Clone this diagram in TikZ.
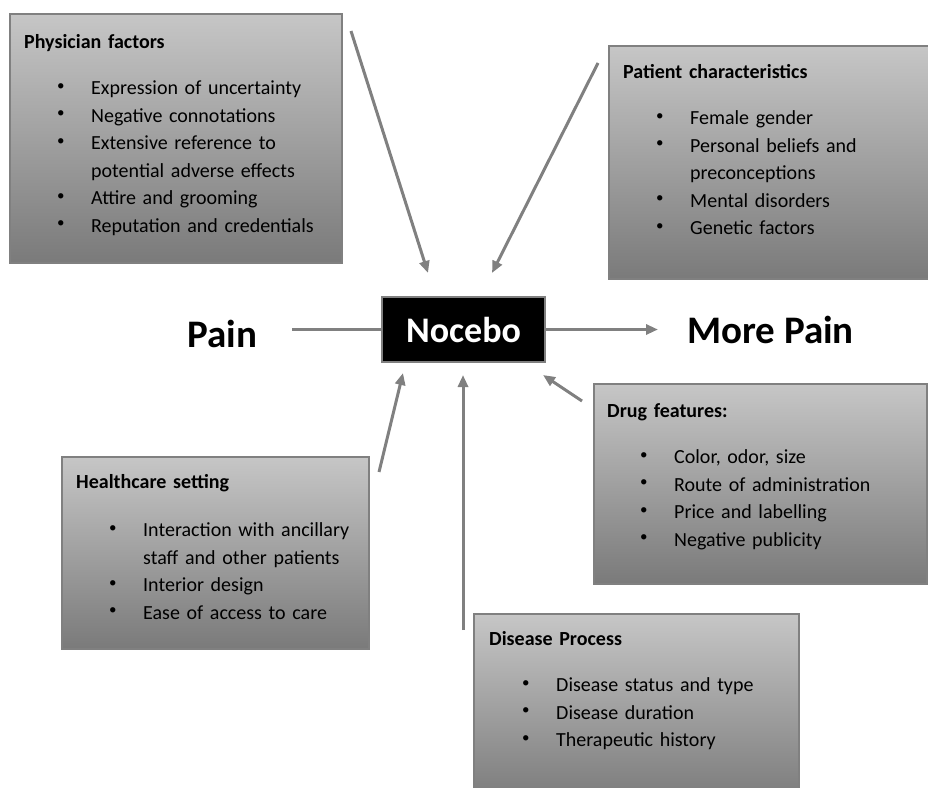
\documentclass[tikz,border=0pt]{standalone}
\usepackage{fontspec}
\setmainfont{Carlito}
\usepackage{tikz}
\usetikzlibrary{arrows.meta}
\definecolor{boxtop}{RGB}{198,198,198}
\definecolor{boxbot}{RGB}{122,122,122}
\definecolor{linegray}{RGB}{128,128,128}
\tikzstyle{factor} = [rectangle, anchor=north west, inner sep=0pt, draw=linegray, line width=2pt, top color=boxtop, bottom color=boxbot]
\tikzstyle{factortext} = [anchor=base west, inner sep=0pt, text width=320pt, align=left, font=\fontsize{20}{27.5}\selectfont]
\tikzstyle{bigword} = [anchor=base west, inner sep=0pt, font=\fontsize{39}{44}\selectfont\bfseries]
\tikzstyle{line} = [line width=3pt, draw=linegray]
\tikzstyle{arrow} = [line, -{Triangle[length=12pt,width=10pt]}]
\newcommand{\bl}{\hspace*{33pt}\makebox[34pt][l]{\raisebox{4.5pt}{\fontsize{15}{15}\selectfont\textbullet}}}
\newcommand{\cont}{\hspace*{67pt}}

\begin{document}
\begin{tikzpicture}[x=1pt, y=-1pt]
		\clip (0,0) rectangle (928,787);
		% the five factor boxes
		\node (phys) [factor, minimum width=332pt, minimum height=249pt] at (9,13) {};
		\node (pat) [factor, minimum width=330pt, minimum height=233pt] at (608,45) {};
		\node (drug) [factor, minimum width=333pt, minimum height=200pt] at (593,383) {};
		\node (care) [factor, minimum width=307pt, minimum height=192pt] at (61,456) {};
		\node (dis) [factor, minimum width=325pt, minimum height=190pt] at (473,613) {};
		\node (physt) [factortext] at (24,48) {\textbf{Physician factors}\\[19pt]
			\bl Expression of uncertainty\\
			\bl Negative connotations\\
			\bl Extensive reference to\\
			\cont potential adverse effects\\
			\bl Attire and grooming\\
			\bl Reputation and credentials};
		\node (patt) [factortext] at (623,78) {\textbf{Patient characteristics}\\[19pt]
			\bl Female gender\\
			\bl Personal beliefs and\\
			\cont preconceptions\\
			\bl Mental disorders\\
			\bl Genetic factors};
		\node (drugt) [factortext] at (607,417) {\textbf{Drug features:}\\[19pt]
			\bl Color, odor, size\\
			\bl Route of administration\\
			\bl Price and labelling\\
			\bl Negative publicity};
		\node (caret) [factortext] at (76,488) {\textbf{Healthcare setting}\\[21pt]
			\bl Interaction with ancillary\\
			\cont staff and other patients\\
			\bl Interior design\\
			\bl Ease of access to care};
		\node (dist) [factortext] at (489,645) {\textbf{Disease Process}\\[19pt]
			\bl Disease status and type\\
			\bl Disease duration\\
			\bl Therapeutic history};
		% centre row
		\node (nocebo) [rectangle, fill=black, draw=linegray, line width=1.5pt, minimum width=163pt, minimum height=65pt, text=white, font=\fontsize{36}{40}\selectfont\bfseries] at (463.5,329.5) {Nocebo};
		\node (pain) [bigword] at (187,347) {Pain};
		\node (morepain) [bigword] at (687,343) {More Pain};
		% arrow ends
		\coordinate (painout) at (292,329.5);
		\coordinate (morein) at (658,329.5);
		\coordinate (physout) at (351,31);
		\coordinate (physin) at (428,273);
		\coordinate (patout) at (598,63);
		\coordinate (patin) at (492,273);
		\coordinate (drugout) at (582,401);
		\coordinate (drugin) at (543,375);
		\coordinate (disout) at (463,630);
		\coordinate (disin) at (463,375);
		\coordinate (careout) at (379,472);
		\coordinate (carein) at (403,373);
		\draw [line] (painout) -- (nocebo.west);
		\draw [arrow] (nocebo.east) -- (morein);
		\draw [arrow] (physout) -- (physin);
		\draw [arrow] (patout) -- (patin);
		\draw [arrow] (drugout) -- (drugin);
		\draw [arrow] (disout) -- (disin);
		\draw [arrow] (careout) -- (carein);
\end{tikzpicture}
\end{document}
